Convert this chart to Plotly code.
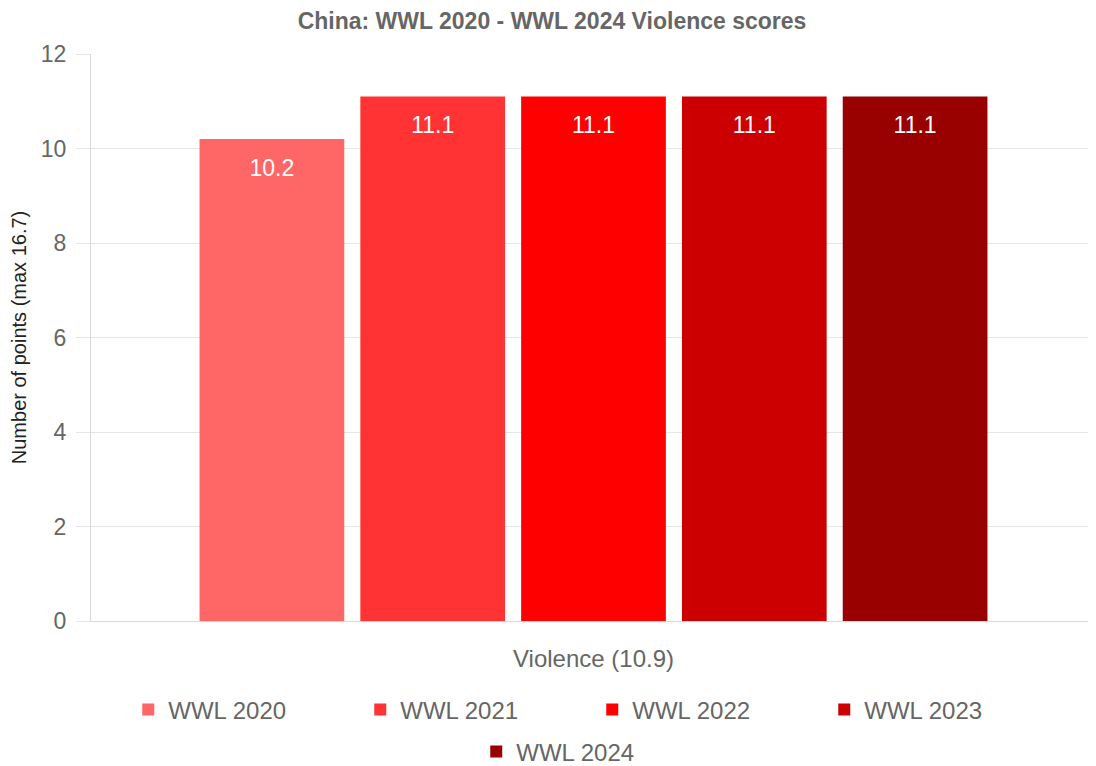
import plotly.graph_objects as go

categories = ["Violence (10.9)"]
series_names = ["WWL 2020", "WWL 2021", "WWL 2022", "WWL 2023", "WWL 2024"]
series_values = [10.2, 11.1, 11.1, 11.1, 11.1]
series_colors = ["#ff6666", "#ff3333", "#ff0000", "#cc0000", "#990000"]
y_ticks = [0, 2, 4, 6, 8, 10, 12]

FONT = "Liberation Sans, Arial, Helvetica, sans-serif"

fig = go.Figure()
for i, (name, val, col) in enumerate(zip(series_names, series_values, series_colors)):
    fig.add_trace(go.Bar(
        name=name, x=categories, y=[val],
        marker=dict(color=col, line=dict(width=0)),
        text=[f"{val:.1f}"], textposition="inside", insidetextanchor="end",
        textfont=dict(color="white", size=23, family=FONT),
        texttemplate="<span style='font-size:4px'> </span><br>%{text}",
        legend="legend" if i < 4 else "legend2",
        cliponaxis=False,
    ))

legend_common = dict(orientation="h", xref="container", x=0.537, xanchor="center",
                     yanchor="middle", font=dict(size=24, color="#666666", family=FONT),
                     entrywidth=187, itemwidth=30, traceorder="normal",
                     bgcolor="rgba(0,0,0,0)")

fig.update_layout(
    width=1088, height=758,
    barmode="group", bargap=0.2, bargroupgap=0.1,
    plot_bgcolor="white", paper_bgcolor="white",
    font=dict(family=FONT, color="#666666", size=24),
    margin=dict(l=83, r=0, t=46, b=145, autoexpand=False),
    title=dict(text="<b>China: WWL 2020 - WWL 2024 Violence scores</b>",
               x=0.5, xanchor="center", y=1 - 13 / 758, yanchor="middle",
               font=dict(size=23, color="#666666", family=FONT)),
    legend=dict(legend_common, y=-0.157),
    legend2=dict(legend_common, y=-0.231),
    uniformtext=dict(mode=False),
)
fig.update_yaxes(range=[0, 12], tickvals=y_ticks, showgrid=True, gridcolor="#e6e6e6",
                 showline=True, linecolor="#d9d9d9", ticks="outside", ticklen=14,
                 tickcolor="#e6e6e6", zeroline=False, automargin=False,
                 ticklabelstandoff=5,
                 tickfont=dict(size=23, color="#666666"),
                 title=dict(text="Number of points (max 16.7)", standoff=10,
                            font=dict(size=20, color="#222222")))
fig.update_xaxes(showline=True, linecolor="#d9d9d9", ticks="", automargin=False,
                 ticklabelstandoff=16,
                 tickfont=dict(size=24, color="#666666"))

fig.write_html("out.html")
